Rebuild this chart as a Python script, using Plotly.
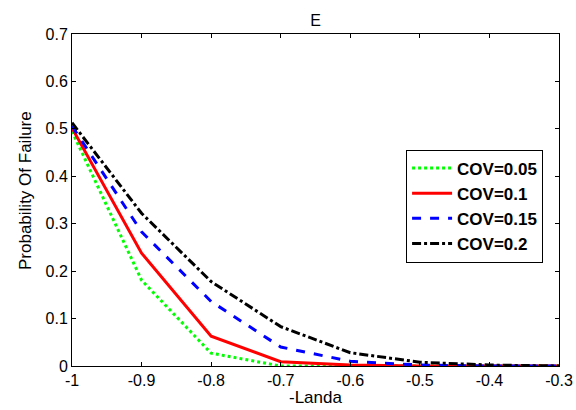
import plotly.graph_objects as go

x_vals = [-1.0, -0.9, -0.8, -0.7, -0.6, -0.5, -0.4, -0.3]
cov005 = [0.495, 0.181, 0.027, 0.0, 0.0, 0.0, 0.0, 0.0]
cov01 = [0.502, 0.238, 0.063, 0.009, 0.002, 0.0, 0.0, 0.0]
cov015 = [0.506, 0.283, 0.136, 0.040, 0.010, 0.002, 0.0, 0.0]
cov02 = [0.513, 0.322, 0.178, 0.083, 0.028, 0.008, 0.002, 0.0]

x_ticks = [-1.0, -0.9, -0.8, -0.7, -0.6, -0.5, -0.4, -0.3]
x_ticklabels = ["-1", "-0.9", "-0.8", "-0.7", "-0.6", "-0.5", "-0.4", "-0.3"]
y_ticks = [0, 0.1, 0.2, 0.3, 0.4, 0.5, 0.6, 0.7]
y_ticklabels = ["0", "0.1", "0.2", "0.3", "0.4", "0.5", "0.6", "0.7"]

series = [
    ("COV=0.05", cov005, "#00ff00", "dot"),
    ("COV=0.1", cov01, "#ff0000", "solid"),
    ("COV=0.15", cov015, "#0000ff", "dash"),
    ("COV=0.2", cov02, "#000000", "dashdot"),
]

fig = go.Figure()
for name, ys, color, dash in series:
    fig.add_trace(go.Scatter(x=x_vals, y=ys, mode="lines", name=name,
                             line=dict(color=color, width=3, dash=dash)))

font_family = "Liberation Sans, Arial, sans-serif"
fig.update_layout(
    width=576, height=410,
    margin=dict(l=72, r=17, t=34, b=44, autoexpand=False),
    paper_bgcolor="white", plot_bgcolor="white",
    font=dict(family=font_family, size=16, color="black"),
    title=dict(text="E", x=0.5, xref="paper", xanchor="center", y=1, yref="paper",
               yanchor="bottom", pad=dict(b=8), font=dict(size=16)),
    legend=dict(x=0.686, y=0.652, xanchor="left", yanchor="top",
                bordercolor="black", borderwidth=1, bgcolor="white",
                font=dict(size=17, family=font_family, weight="bold"),
                tracegroupgap=0, itemwidth=40),
    showlegend=True,
    annotations=[
        dict(text="-Landa", xref="paper", yref="paper", x=0.5, y=0, yshift=-43,
             xanchor="center", yanchor="bottom", showarrow=False, font=dict(size=17)),
        dict(text="Probability Of Failure", xref="paper", yref="paper", x=0, y=0.5,
             xshift=-47, yshift=9, xanchor="center", yanchor="middle", textangle=-90,
             showarrow=False, font=dict(size=17)),
    ],
)
fig.update_xaxes(range=[-1, -0.3], tickvals=x_ticks, ticktext=x_ticklabels,
                 ticks="inside", ticklen=4, tickcolor="black", showgrid=False,
                 zeroline=False, showline=True, linecolor="black", linewidth=1,
                 mirror="ticks", tickfont=dict(size=16), automargin=False)
fig.update_yaxes(range=[0, 0.7], tickvals=y_ticks, ticktext=y_ticklabels,
                 ticks="inside", ticklen=4, tickcolor="black", showgrid=False,
                 zeroline=False, showline=True, linecolor="black", linewidth=1,
                 mirror="ticks", tickfont=dict(size=16), automargin=False)

fig.write_html("out.html")
